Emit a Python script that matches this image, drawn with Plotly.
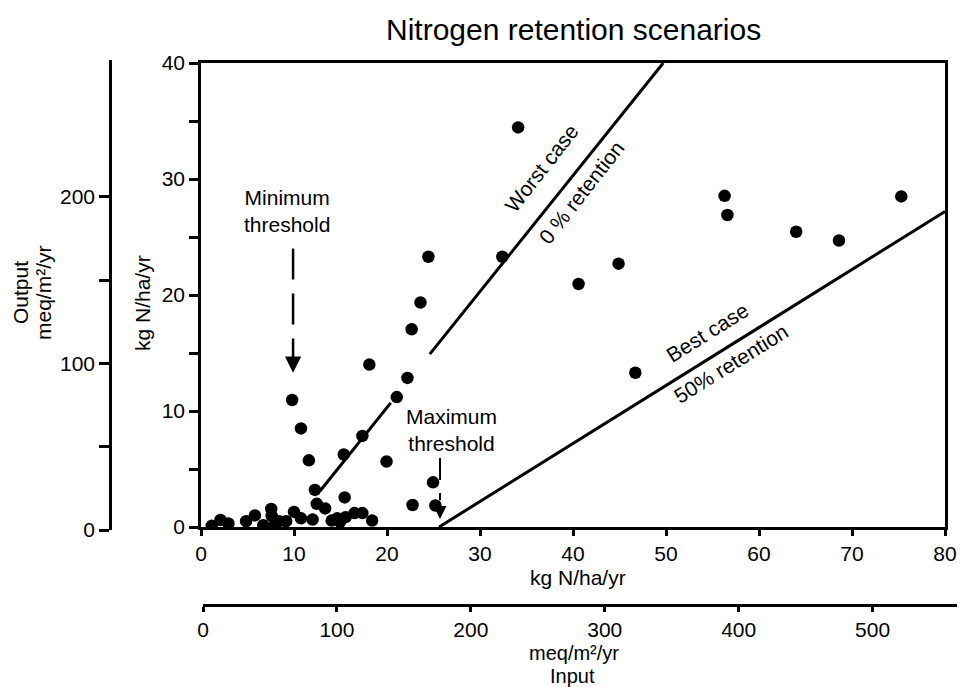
import plotly.graph_objects as go

W, H = 962, 687

# ---- data (kg N/ha/yr) ----
input_kg = [1.15, 2.1, 2.95, 4.85, 5.8, 6.7, 7.55, 7.6, 7.85, 8.4, 9.15, 10.0, 10.75, 12.0,
            12.25, 12.45, 13.35, 14.05, 14.65, 14.95, 15.45, 15.55, 16.5, 17.35, 18.4,
            22.75, 24.95, 25.2,
            9.8, 10.75, 11.6, 15.35, 17.35, 18.1, 19.95, 21.05, 22.2, 22.65, 23.6, 24.45,
            32.4, 34.1, 40.6, 44.9, 46.7, 56.3, 56.6, 64.0, 68.6, 75.3]
output_kg = [0.1, 0.6, 0.3, 0.5, 1.0, 0.15, 1.55, 0.95, 0.1, 0.5, 0.5, 1.3, 0.75, 0.65,
             3.2, 2.0, 1.6, 0.55, 0.75, 0.45, 2.55, 0.85, 1.2, 1.2, 0.55,
             1.9, 3.85, 1.85,
             10.95, 8.5, 5.75, 6.25, 7.85, 14.0, 5.65, 11.2, 12.85, 17.05, 19.35, 23.3,
             23.3, 34.45, 20.95, 22.7, 13.3, 28.55, 26.9, 25.45, 24.7, 28.5]

worst_seg1_x = [12.8, 20.4]
worst_seg1_y = [3.1, 10.7]
worst_seg2_x = [24.6, 49.7]
worst_seg2_y = [14.9, 40.0]
best_x = [25.6, 80.0]
best_y = [0.0, 27.2]
min_thr_x = [9.9, 9.9]
min_thr_y = [24.0, 14.4]
min_thr_tip = 13.3
max_thr_x = [25.7, 25.7]
max_thr_y = [5.95, 2.3]
max_thr_tip = 0.7

x_ticks = [0, 10, 20, 30, 40, 50, 60, 70, 80]
y_ticks = [0, 5, 10, 15, 20, 25, 30, 35, 40]
y_tick_labels = ['0', '', '10', '', '20', '', '30', '', '40']
input_meq_ticks = [0, 100, 200, 300, 400, 500]
output_meq_ticks = [0, 50, 100, 150, 200]
output_meq_labels = ['0', '', '100', '', '200']


def fx(px):
    return px / W


def fy(py):
    return 1 - py / H


FONT = "Liberation Sans, Arial, Helvetica, sans-serif"
BLACK = "#000000"

fig = go.Figure()

fig.add_trace(go.Scatter(x=worst_seg1_x, y=worst_seg1_y, mode="lines",
                         line=dict(color=BLACK, width=3), hoverinfo="skip", showlegend=False))
fig.add_trace(go.Scatter(x=worst_seg2_x, y=worst_seg2_y, mode="lines",
                         line=dict(color=BLACK, width=3), hoverinfo="skip", showlegend=False))
fig.add_trace(go.Scatter(x=best_x, y=best_y, mode="lines",
                         line=dict(color=BLACK, width=3), hoverinfo="skip", showlegend=False))
fig.add_trace(go.Scatter(x=min_thr_x, y=min_thr_y, mode="lines",
                         line=dict(color=BLACK, width=2.5, dash="31px,14px"),
                         hoverinfo="skip", showlegend=False))
fig.add_trace(go.Scatter(x=max_thr_x, y=max_thr_y, mode="lines",
                         line=dict(color=BLACK, width=2, dash="22px,13px"),
                         hoverinfo="skip", showlegend=False))
fig.add_trace(go.Scatter(x=input_kg, y=output_kg, mode="markers",
                         marker=dict(color=BLACK, size=12.5), showlegend=False))

# invisible traces that host the secondary unit axes
fig.add_trace(go.Scatter(x=[0], y=[0], xaxis="x2", yaxis="y", mode="markers",
                         marker=dict(opacity=0), hoverinfo="skip", showlegend=False))
fig.add_trace(go.Scatter(x=[0], y=[0], xaxis="x", yaxis="y2", mode="markers",
                         marker=dict(opacity=0), hoverinfo="skip", showlegend=False))

axis_common = dict(showline=True, linecolor=BLACK, linewidth=2.5, showgrid=False,
                   zeroline=False, ticks="outside", tickcolor=BLACK, tickwidth=2.5,
                   automargin=False,
                   tickfont=dict(family=FONT, size=21, color=BLACK), fixedrange=True)

fig.update_layout(
    width=W, height=H,
    margin=dict(l=0, r=0, t=0, b=0, pad=0, autoexpand=False),
    paper_bgcolor="white", plot_bgcolor="rgba(0,0,0,0)",
    font=dict(family=FONT, color=BLACK),
    xaxis=dict(domain=[fx(201), fx(945)], range=[0, 80], anchor="y", mirror=True,
               tickvals=x_ticks, ticklen=6, **axis_common),
    yaxis=dict(domain=[fy(527), fy(63)], range=[0, 40], anchor="x", mirror=True,
               tickvals=y_ticks, ticktext=y_tick_labels, ticklen=9, **axis_common),
    xaxis2=dict(domain=[fx(203), fx(957)], range=[0, 563], anchor="free",
                position=fy(605), tickvals=input_meq_ticks, ticklen=5, **axis_common),
    yaxis2=dict(domain=[fy(530), fy(60)], range=[0, 282], anchor="free",
                position=fx(110), tickvals=output_meq_ticks, ticktext=output_meq_labels,
                ticklen=10, **axis_common),
)


def label(text, px, py, size=21, angle=0):
    fig.add_annotation(text=text, x=fx(px), y=fy(py), xref="paper", yref="paper",
                       showarrow=False, textangle=angle, xanchor="center", yanchor="middle",
                       font=dict(family=FONT, size=size, color=BLACK))


label("Nitrogen retention scenarios", 573, 30, size=30)
label("kg N/ha/yr", 578, 577)
label("meq/m²/yr", 574, 653, size=20)
label("Input", 572, 676, size=20)
label("kg N/ha/yr", 142, 303, angle=-90)
label("Output", 20, 293, angle=-90)
label("meq/m²/yr", 43, 293, angle=-90)
label("Minimum<br>threshold", 287, 211)
label("Maximum<br>threshold", 451, 430)
label("Worst case", 541, 168, angle=-52)
label("0 % retention", 581, 192, angle=-52)
label("Best case", 707, 332, angle=-32)
label("50% retention", 731, 363, angle=-32)

# arrowheads at the ends of the threshold markers
fig.add_annotation(x=min_thr_x[0], y=min_thr_tip, xref="x", yref="y", text="",
                   showarrow=True, ax=0, ay=-16, arrowhead=2, arrowsize=1.3,
                   arrowwidth=2.5, arrowcolor=BLACK, standoff=0)
fig.add_annotation(x=max_thr_x[0], y=max_thr_tip, xref="x", yref="y", text="",
                   showarrow=True, ax=0, ay=-18, arrowhead=2, arrowsize=1.3,
                   arrowwidth=2, arrowcolor=BLACK, standoff=0)

fig.write_html(
    "out.html",
    config={"displayModeBar": False},
    post_script="document.body.style.margin='0px';document.body.style.overflow='hidden';",
)
